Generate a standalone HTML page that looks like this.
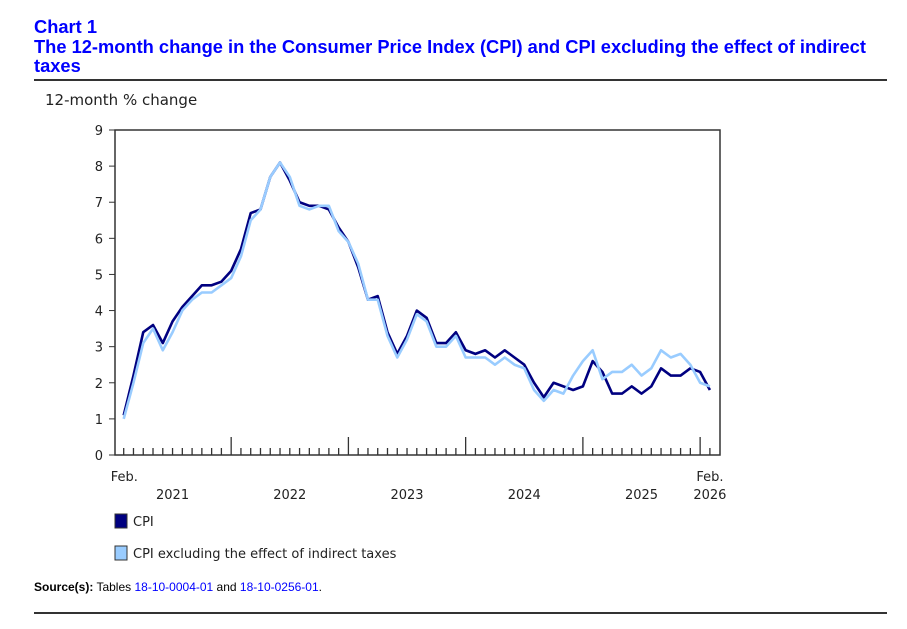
<!DOCTYPE html>
<html><head><meta charset="utf-8"><style>
body{margin:0;background:#fff;width:907px;height:629px;overflow:hidden;font-family:"Liberation Sans",Arial,sans-serif}
.t{position:absolute;left:34px;color:#0000ff;font-weight:bold;font-size:18.3px;line-height:19px}
</style></head><body>
<div class="t" style="top:17px">Chart 1</div>
<div class="t" style="top:37px;width:850px">The 12-month change in the Consumer Price Index (CPI) and CPI excluding the effect of indirect taxes</div>
<div style="position:absolute;left:34px;top:79px;width:853px;height:2px;background:#333"></div>
<svg id="c" width="907" height="629" style="position:absolute;left:0;top:0"></svg>
<div style="position:absolute;left:34px;top:580px;font-size:12px"><b>Source(s):</b> Tables <span style="color:#0000ff">18-10-0004-01</span> and <span style="color:#0000ff">18-10-0256-01</span>.</div>
<div style="position:absolute;left:34px;top:612px;width:853px;height:2px;background:#333"></div>
<script>
const cpi=[1.1,2.2,3.4,3.6,3.1,3.7,4.1,4.4,4.7,4.7,4.8,
5.1,5.7,6.7,6.8,7.7,8.1,7.6,7.0,6.9,6.9,6.8,6.3,
5.9,5.2,4.3,4.4,3.4,2.8,3.3,4.0,3.8,3.1,3.1,3.4,
2.9,2.8,2.9,2.7,2.9,2.7,2.5,2.0,1.6,2.0,1.9,1.8,
1.9,2.6,2.3,1.7,1.7,1.9,1.7,1.9,2.4,2.2,2.2,2.4,
2.3,1.8];
const cpiExTax=[1.0,2.0,3.1,3.5,2.9,3.4,4.0,4.3,4.5,4.5,4.7,
4.9,5.5,6.5,6.8,7.7,8.1,7.7,6.9,6.8,6.9,6.9,6.2,
5.9,5.3,4.3,4.3,3.3,2.7,3.2,3.9,3.7,3.0,3.0,3.3,
2.7,2.7,2.7,2.5,2.7,2.5,2.4,1.8,1.5,1.8,1.7,2.2,
2.6,2.9,2.1,2.3,2.3,2.5,2.2,2.4,2.9,2.7,2.8,2.5,
2.0,1.9];
const yTicks=[0,1,2,3,4,5,6,7,8,9];
const years=["2021","2022","2023","2024","2025","2026"];
const NS="http://www.w3.org/2000/svg",svg=document.getElementById('c');
const L=115,R=720,T=130,B=455,x0=123.7,dx=9.77;
const X=i=>x0+i*dx, Y=v=>B-v*(B-T)/9;
function mk(t,a,txt){const e=document.createElementNS(NS,t);for(const k in a)e.setAttribute(k,a[k]);if(txt!=null)e.textContent=txt;svg.appendChild(e);return e;}
let e=mk('rect',{x:L,y:T,width:R-L,height:B-T,fill:'none',stroke:'#333','stroke-width':1.5});


e=mk('text',{x:45,y:105,'font-size':15,fill:'#222','font-family':'DejaVu Sans, sans-serif'},'12-month % change');


yTicks.forEach(v=>{
 mk('line',{x1:L-6,x2:L,y1:Y(v),y2:Y(v),stroke:'#333'});
 e=mk('text',{x:L-12,y:Y(v)+5,'font-size':13,'text-anchor':'end','font-family':'DejaVu Sans, sans-serif',fill:'#222'},v);
 
 
});
for(let i=0;i<cpi.length;i++){
 const maj=(i%12)===11;
 mk('line',{x1:X(i),x2:X(i),y1:B,y2:B-(maj?18:7),stroke:'#333','stroke-width':1.3});
}
years.forEach((y,k)=>{
 const cx=k<5?X(k*12+5):X(60);
 e=mk('text',{x:cx,y:499,'font-size':13,'text-anchor':'middle','font-family':'DejaVu Sans, sans-serif',fill:'#222'},y);
 
 
});
[[X(0),'start'],[X(60),'middle']].forEach(([cx,a],k)=>{
 e=mk('text',{x:k?cx:cx-13,y:481,'font-size':13,'text-anchor':a,'font-family':'DejaVu Sans, sans-serif',fill:'#222'},'Feb.');
 
 
});
function line(d,c,n){const p=mk('polyline',{points:d.map((v,i)=>X(i)+','+Y(v)).join(' '),fill:'none',stroke:c,'stroke-width':2.6,'stroke-linejoin':'round'});
 
 }
line(cpi,'#000080','cpi-line');
line(cpiExTax,'#99ccff','cpi-ex-tax-line');
[['#000080','CPI',522],['#99ccff','CPI excluding the effect of indirect taxes',554]].forEach(([c,t,y],k)=>{
 e=mk('rect',{x:115,y:y-8,width:12,height:14,fill:c,stroke:'#333'});
 
 
 e=mk('text',{x:133,y:y+4,'font-size':13,'font-family':'DejaVu Sans, sans-serif',fill:'#222'},t);
 
 
});
</script>
</body></html>
